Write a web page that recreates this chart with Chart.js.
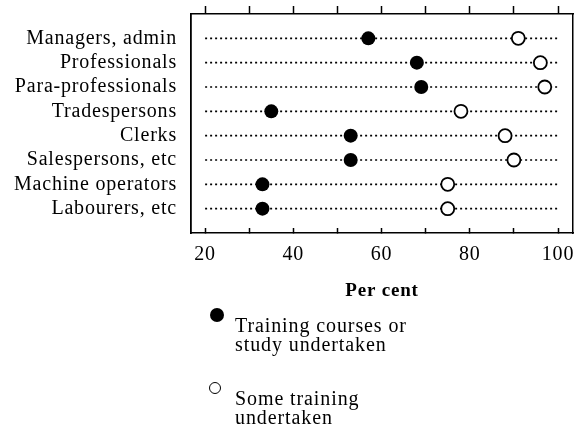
<!DOCTYPE html>
<html>
<head>
<meta charset="utf-8">
<script src="https://cdn.jsdelivr.net/npm/chart.js@4"></script>
<style>
    body { margin: 0; background: #fff; }
    #wrap { position: relative; width: 583px; height: 430px; }
    .legend-item { position: absolute; font-family: 'Liberation Serif', serif; font-size: 20px; line-height: 19px; letter-spacing: 0.9px; color: #000; }
    .marker { position: absolute; border-radius: 50%; box-sizing: border-box; }
</style>
</head>
<body>
<div id="wrap">
    <canvas id="dots" width="583" height="430"></canvas>
    <div class="marker" style="left:210px; top:308px; width:14px; height:14px; background:#000;"></div>
    <div class="legend-item" style="left:235px; top:316px;">Training courses or<br>study undertaken</div>
    <div class="marker" style="left:209px; top:382px; width:12px; height:12px; border:1.5px solid #000; background:#fff;"></div>
    <div class="legend-item" style="left:235px; top:389px;">Some training<br>undertaken</div>
</div>
<script>
// Dados
const categories = ['Managers, admin', 'Professionals', 'Para-professionals', 'Tradespersons', 'Clerks', 'Salespersons, etc', 'Machine operators', 'Labourers, etc'];
const trainingCourses = [57, 68, 69, 35, 53, 53, 33, 33];
const someTraining = [91, 96, 97, 78, 88, 90, 75, 75];
const xTicks = [20, 30, 40, 50, 60, 70, 80, 90, 100];
const xLabelled = [20, 40, 60, 80, 100];
const guideRange = [20, 100];

const xMin = 16.8;
const xMax = 103.4;
const serif = 'Liberation Serif';

// Linhas pontilhadas de cada categoria
let guides = categories.map((c, i) => ({
    type: 'scatter',
    label: 'guide ' + c,
    data: guideRange.map(v => ({ x: v, y: i + 1 })),
    showLine: true,
    borderColor: '#000',
    borderWidth: 1.6,
    borderDash: [2, 3],
    pointRadius: 0
}));

let setTicks = scale => { scale.ticks = xTicks.map(v => ({ value: v })); };

// Sem padding extra dos rótulos, para manter a área do gráfico fixa
let noPad = scale => {
    scale.paddingLeft = 0;
    scale.paddingRight = 0;
    scale.paddingTop = 0;
    scale.paddingBottom = 0;
};

// Espaçamento entre letras, o texto original é mais largo
let spacing = {
    id: 'spacing',
    beforeDraw: chart => { chart.ctx.letterSpacing = '0.8px'; }
};

new Chart(document.getElementById('dots'), {
    type: 'scatter',
    data: {
        datasets: [
            {
                label: 'Training courses or study undertaken',
                data: categories.map((c, i) => ({ x: trainingCourses[i], y: i + 1 })),
                pointRadius: 7,
                pointBackgroundColor: '#000',
                pointBorderWidth: 0
            },
            {
                label: 'Some training undertaken',
                data: categories.map((c, i) => ({ x: someTraining[i], y: i + 1 })),
                pointRadius: 6.5,
                pointBackgroundColor: '#fff',
                pointBorderColor: '#000',
                pointBorderWidth: 1.8
            },
            ...guides
        ]
    },
    plugins: [spacing],
    options: {
        responsive: false,
        animation: false,
        layout: { padding: { left: 0, right: 0, top: 0, bottom: 128 } },
        plugins: {
            legend: { display: false },
            tooltip: { enabled: false }
        },
        scales: {
            x: {
                type: 'linear',
                position: 'bottom',
                min: xMin,
                max: xMax,
                afterBuildTicks: setTicks,
                afterFit: scale => { noPad(scale); scale.height = 69; },
                grid: { drawOnChartArea: false, tickLength: -5, tickColor: '#000', tickWidth: 1.5 },
                border: { color: '#000', width: 1.5 },
                ticks: {
                    padding: 15,
                    color: '#000',
                    autoSkip: false,
                    maxRotation: 0,
                    font: { family: serif, size: 20 },
                    callback: v => xLabelled.includes(v) ? v : ''
                },
                title: {
                    display: true,
                    text: 'Per cent',
                    color: '#000',
                    padding: 0,
                    font: { family: serif, size: 19, weight: 'bold' }
                }
            },
            xTop: {
                type: 'linear',
                position: 'top',
                min: xMin,
                max: xMax,
                afterBuildTicks: setTicks,
                afterFit: scale => { noPad(scale); scale.height = 14; },
                grid: { drawOnChartArea: false, tickLength: 8, tickColor: '#000', tickWidth: 1.5 },
                border: { color: '#000', width: 1.5 },
                ticks: { display: false }
            },
            y: {
                type: 'linear',
                position: 'left',
                reverse: true,
                min: 0,
                max: 9,
                afterBuildTicks: scale => { scale.ticks = categories.map((c, i) => ({ value: i + 1 })); },
                afterFit: scale => { noPad(scale); scale.width = 191; },
                grid: { display: false, drawTicks: false },
                border: { color: '#000', width: 1.8 },
                ticks: {
                    padding: 14,
                    color: '#000',
                    autoSkip: false,
                    font: { family: serif, size: 20 },
                    callback: v => categories[v - 1]
                }
            },
            yRight: {
                type: 'linear',
                position: 'right',
                min: 0,
                max: 9,
                afterFit: scale => { noPad(scale); scale.width = 10; },
                grid: { display: false, drawTicks: false },
                border: { color: '#000', width: 1.5 },
                ticks: { display: false }
            }
        }
    }
});
</script>
</body>
</html>
